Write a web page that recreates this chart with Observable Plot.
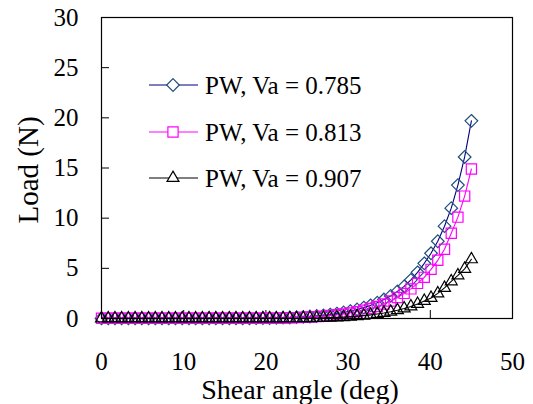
<!DOCTYPE html>
<html><head><meta charset="utf-8">
<script src="https://cdn.jsdelivr.net/npm/d3@7"></script>
<script src="https://cdn.jsdelivr.net/npm/@observablehq/plot@0.6"></script>
<style>
html,body{margin:0;padding:0;background:#fff;}
#wrap{position:relative;width:533px;height:404px;overflow:hidden;font-family:"Liberation Serif","Times New Roman",serif;color:#000;}
#wrap svg{font-family:"Liberation Serif","Times New Roman",serif !important;}
#wrap svg text{font-family:"Liberation Serif","Times New Roman",serif !important;}
#wrap svg.plot{position:absolute;left:0;top:0;}
.ytitle{position:absolute;left:28px;top:170px;transform:translate(-50%,-50%) rotate(-90deg);font-size:29px;white-space:nowrap;line-height:1;}
.xtitle{position:absolute;left:300px;top:390px;transform:translate(-50%,-50%);font-size:28px;white-space:nowrap;line-height:1;}
#legend{position:absolute;left:0;top:0;}
</style></head>
<body><div id="wrap"></div>
<script>
// Shear angle (deg) at each measurement
const angles = [0, 0.82, 1.64, 2.45, 3.27, 4.09, 4.91, 5.73, 6.55, 7.36,
  8.18, 9.0, 9.82, 10.64, 11.45, 12.27, 13.09, 13.91, 14.73, 15.55,
  16.36, 17.18, 18.0, 18.82, 19.64, 20.45, 21.27, 22.09, 22.91, 23.73,
  24.55, 25.36, 26.18, 27.0, 27.82, 28.64, 29.45, 30.27, 31.09, 31.91,
  32.73, 33.55, 34.36, 35.18, 36.0, 36.82, 37.64, 38.45, 39.27, 40.09,
  40.91, 41.73, 42.55, 43.36, 44.18, 45.0];
// Load (N), PW, Va = 0.785
const loadVa0785 = [0.01, 0.01, 0.01, 0.01, 0.01, 0.01, 0.01, 0.01, 0.01, 0.01,
  0.01, 0.01, 0.01, 0.01, 0.01, 0.01, 0.02, 0.02, 0.02, 0.02,
  0.02, 0.02, 0.02, 0.03, 0.04, 0.05, 0.06, 0.08, 0.1, 0.13,
  0.16, 0.2, 0.25, 0.31, 0.39, 0.49, 0.6, 0.74, 0.9, 1.09,
  1.31, 1.58, 1.89, 2.25, 2.7, 3.2, 3.85, 4.6, 5.5, 6.5,
  7.7, 9.2, 11.0, 13.3, 16.1, 19.7];
// Load (N), PW, Va = 0.813
const loadVa0813 = [0.02, 0.02, 0.02, 0.02, 0.02, 0.02, 0.02, 0.02, 0.02, 0.02,
  0.02, 0.02, 0.02, 0.02, 0.02, 0.02, 0.02, 0.02, 0.02, 0.02,
  0.02, 0.02, 0.02, 0.02, 0.02, 0.03, 0.04, 0.05, 0.07, 0.09,
  0.12, 0.15, 0.19, 0.24, 0.3, 0.37, 0.46, 0.56, 0.68, 0.83,
  1.0, 1.2, 1.45, 1.75, 2.1, 2.5, 2.95, 3.5, 4.1, 4.9,
  5.8, 6.9, 8.5, 10.1, 12.2, 14.9];
// Load (N), PW, Va = 0.907
const loadVa0907 = [0.01, 0.01, 0.01, 0.01, 0.01, 0.01, 0.01, 0.01, 0.01, 0.01,
  0.01, 0.01, 0.01, 0.01, 0.01, 0.01, 0.01, 0.01, 0.01, 0.01,
  0.01, 0.01, 0.01, 0.01, 0.01, 0.01, 0.01, 0.01, 0.02, 0.02,
  0.03, 0.04, 0.05, 0.07, 0.09, 0.11, 0.14, 0.18, 0.23, 0.29,
  0.36, 0.45, 0.55, 0.67, 0.82, 1.0, 1.2, 1.45, 1.75, 2.05,
  2.5, 3.05, 3.7, 4.3, 4.95, 5.9];
const seriesNames = ["PW, Va = 0.785", "PW, Va = 0.813", "PW, Va = 0.907"];
const seriesLine = ["#000080", "#FF00FF", "#000000"];
const seriesMarker = ["#1F4E79", "#FF00FF", "#000000"];
const seriesSymbol = ["diamond2", "square2", "triangle2"];
const seriesR = [5.7, 6.5, 5.7];
const xTicks = [0, 10, 20, 30, 40, 50];
const yTicks = [0, 5, 10, 15, 20, 25, 30];
const xTitle = "Shear angle (deg)";
const yTitle = "Load (N)";

const FONT = '"Liberation Serif","Times New Roman",serif';
const seriesValues = [loadVa0785, loadVa0813, loadVa0907];
const rows = seriesValues.map((vals, s) => vals.map((v, i) => ({x: angles[i], y: v, s})));

const W = 533, H = 404;
const marks = [];
rows.forEach((data, s) => {
  marks.push(Plot.line(data, {x: "x", y: "y", stroke: seriesLine[s], strokeWidth: 1.1}));
  marks.push(Plot.dot(data, {x: "x", y: "y", symbol: () => seriesSymbol[s], r: seriesR[s], stroke: seriesMarker[s], fill: "none", strokeWidth: 1.2}));
});

const plot = Plot.plot({
  width: W, height: H,
  marginLeft: 101, marginRight: 21, marginTop: 17, marginBottom: 86,
  style: {fontFamily: FONT, background: "transparent", color: "#000"},
  x: {domain: [0, 50], axis: null},
  y: {domain: [0, 30], axis: null},
  marks: [
    Plot.axisX({ticks: xTicks, tickSize: -8, fill: "none", label: null}),
    Plot.axisX({ticks: xTicks, tickSize: 0, tickPadding: 34, fontSize: 25, fontFamily: FONT, label: null, stroke: "none"}),
    Plot.axisY({ticks: yTicks, tickSize: -8, fill: "none", label: null}),
    Plot.axisY({ticks: yTicks, tickSize: 0, tickPadding: 23, fontSize: 25, fontFamily: FONT, label: null, stroke: "none"}),
    ...marks,
    Plot.frame({stroke: "#000", strokeWidth: 1.2})
  ]
});
plot.classList.add("plot");
const wrap = document.getElementById("wrap");
wrap.appendChild(plot);

const yt = document.createElement("div"); yt.className = "ytitle"; yt.textContent = yTitle; wrap.appendChild(yt);
const xt = document.createElement("div"); xt.className = "xtitle"; xt.textContent = xTitle; wrap.appendChild(xt);

// Legend (inside plot area, upper left)
const leg = d3.select(wrap).append("svg").attr("id", "legend").attr("width", W).attr("height", H);
const symMap = {diamond2: d3.symbolDiamond2, square2: d3.symbolSquare2, triangle2: d3.symbolTriangle2};
const legY = [85, 132, 178];
seriesNames.forEach((name, s) => {
  const g = leg.append("g").attr("transform", `translate(0,${legY[s]})`);
  g.append("line").attr("x1", 149).attr("x2", 198).attr("y1", 0).attr("y2", 0).attr("stroke", seriesLine[s]).attr("stroke-width", 1.1);
  g.append("path").attr("transform", "translate(173,0)")
    .attr("d", d3.symbol(symMap[seriesSymbol[s]], Math.PI * seriesR[s] * seriesR[s])())
    .attr("fill", "#fff").attr("stroke", seriesMarker[s]).attr("stroke-width", 1.2);
  g.append("text").attr("x", 205).attr("y", 0).attr("dy", "0.35em")
    .style("font-family", FONT).attr("font-size", 25).text(name);
});
</script>
</body></html>
